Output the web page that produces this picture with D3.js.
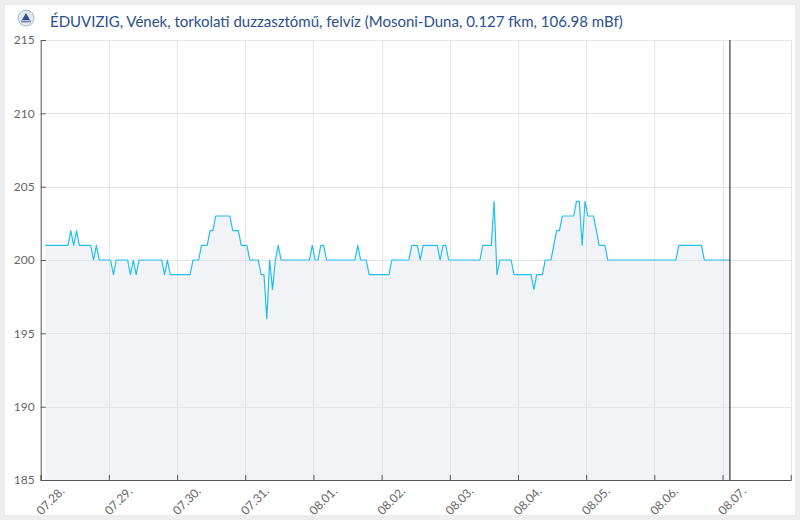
<!DOCTYPE html>
<html>
<head>
<meta charset="utf-8">
<script src="https://cdn.jsdelivr.net/npm/d3@7/dist/d3.min.js"></script>
<style>
  html, body { margin: 0; padding: 0; background: #eeeeee; }
  svg { display: block; font-family: Lato, "Open Sans", sans-serif; }
</style>
</head>
<body>
<svg id="chart" width="800" height="520"></svg>
<script>
// ---- data ----
const titleText = "ÉDUVIZIG, Vének, torkolati duzzasztómű, felvíz (Mosoni-Duna, 0.127 fkm, 106.98 mBf)";
const seriesStart = new Date(2025, 6, 28, 1, 36); // first hourly reading
const axisStart = new Date(2025, 6, 28, 0, 0);
const axisEnd = new Date(2025, 7, 8, 0, 0);
const yTicks = [185, 190, 195, 200, 205, 210, 215];
const yDomain = [185, 215];
// hourly water levels
const levels = [
  201,201,201,201,201,201,201,201,201,202,201,202,201,201,201,201,201,200,201,200,200,200,200,200,
  199,200,200,200,200,200,199,200,199,200,200,200,200,200,200,200,200,200,199,200,199,199,199,199,
  199,199,199,199,200,200,200,201,201,201,202,202,203,203,203,203,203,203,202,202,202,201,201,201,
  200,200,200,200,199,199,196,200,198,200,201,200,200,200,200,200,200,200,200,200,200,200,201,200,
  200,201,201,200,200,200,200,200,200,200,200,200,200,200,201,200,200,200,199,199,199,199,199,199,
  199,199,200,200,200,200,200,200,200,201,201,201,200,201,201,201,201,201,201,200,201,201,200,200,
  200,200,200,200,200,200,200,200,200,200,201,201,201,201,204,199,200,200,200,200,200,199,199,199,
  199,199,199,199,198,199,199,199,200,200,200,201,202,202,203,203,203,203,203,204,204,201,204,203,
  203,203,202,201,201,201,200,200,200,200,200,200,200,200,200,200,200,200,200,200,200,200,200,200,
  200,200,200,200,200,200,200,201,201,201,201,201,201,201,201,201,200,200,200,200,200,200,200,200,
  200,200
];

const data = levels.map((v, i) => ({ t: new Date(seriesStart.getTime() + i * 3600e3), v }));

// ---- layout ----
const svg = d3.select("#chart");
const L = 40.7, R = 790.7, T = 40, B = 480;

svg.append("rect").attr("x", 5).attr("y", 5).attr("width", 790).attr("height", 510)
  .attr("fill", "#ffffff");

const x = d3.scaleTime().domain([axisStart, axisEnd]).range([L, R]);
const y = d3.scaleLinear().domain(yDomain).range([B, T]);
const dayTicks = d3.timeDay.range(axisStart, axisEnd);

// grid
const grid = svg.append("g").attr("stroke", "#e6e6e6").attr("stroke-width", 1);
grid.selectAll("line.h").data(yTicks).join("line")
  .attr("x1", L + 4).attr("x2", R).attr("y1", d => Math.round(y(d)) + 0.5).attr("y2", d => Math.round(y(d)) + 0.5);
grid.selectAll("line.v").data(dayTicks.slice(1).map(d => x(d)).concat([R])).join("line")
  .attr("x1", d => Math.round(d) + 0.5).attr("x2", d => Math.round(d) + 0.5)
  .attr("y1", T).attr("y2", B);

// area + line
const area = d3.area().x(d => x(d.t)).y0(y(yDomain[0])).y1(d => y(d.v));
const line = d3.line().x(d => x(d.t)).y(d => y(d.v));
svg.append("path").datum(data).attr("d", area).attr("fill", "#f2f3f7");
// redraw grid on top of area lightly (vertical lines visible over area)
const grid2 = svg.append("g").attr("stroke", "#e3e4e8").attr("stroke-width", 1);
grid2.selectAll("line").data(dayTicks.slice(1).map(d => x(d))).join("line")
  .attr("x1", d => Math.round(d) + 0.5).attr("x2", d => Math.round(d) + 0.5)
  .attr("y1", T).attr("y2", B);
grid2.selectAll("line.h").data(yTicks.slice(1, -1)).join("line").attr("class", "h")
  .attr("x1", L + 4).attr("x2", R).attr("y1", d => Math.round(y(d)) + 0.5).attr("y2", d => Math.round(y(d)) + 0.5);

svg.append("path").datum(data).attr("d", line).attr("fill", "none")
  .attr("stroke", "#1fc0f0").attr("stroke-width", 1.2).attr("stroke-linejoin", "round");

// now marker
const lastT = data[data.length - 1].t;
svg.append("line").attr("x1", x(lastT)).attr("x2", x(lastT)).attr("y1", T).attr("y2", B)
  .attr("stroke", "#444").attr("stroke-width", 1.3);

// axes
const yAxis = svg.append("g").attr("transform", `translate(${L},0)`)
  .call(d3.axisLeft(y).tickValues(yTicks).tickSize(-5).tickPadding(6).tickFormat(d3.format("d")));
const xAxis = svg.append("g").attr("transform", `translate(0,${B})`)
  .call(d3.axisBottom(x).tickValues(dayTicks).tickSize(-5).tickFormat(d3.timeFormat("%m.%d.")));
[yAxis, xAxis].forEach(a => {
  a.selectAll("path.domain").attr("stroke", "#555");
  a.selectAll(".tick line").attr("stroke", "#555");
  a.selectAll("text").attr("fill", "#666").style("font-size", "12px").style("font-family", "Lato, sans-serif");
});
xAxis.selectAll(".tick text")
  .attr("y", 0).attr("dy", 0).attr("text-anchor", "end")
  .attr("transform", "translate(24,12) rotate(-45)");

// title + logo
const logo = svg.append("g").attr("transform", "translate(26,18)");
logo.append("circle").attr("r", 8).attr("fill", "#e4e8ef").attr("stroke", "#9aa8c0").attr("stroke-width", 0.8);
logo.append("path").attr("d", "M-4,2 L0,-5 L4,2 Z").attr("fill", "#2c4f8f");
logo.append("rect").attr("x", -5).attr("y", 2.5).attr("width", 10).attr("height", 2).attr("fill", "#7d8fb0");

svg.append("text").attr("x", 50).attr("y", 26.5).text(titleText)
  .attr("fill", "#2c4f8f").style("font-size", "15px").style("font-family", "Lato, sans-serif");
</script>
</body>
</html>
